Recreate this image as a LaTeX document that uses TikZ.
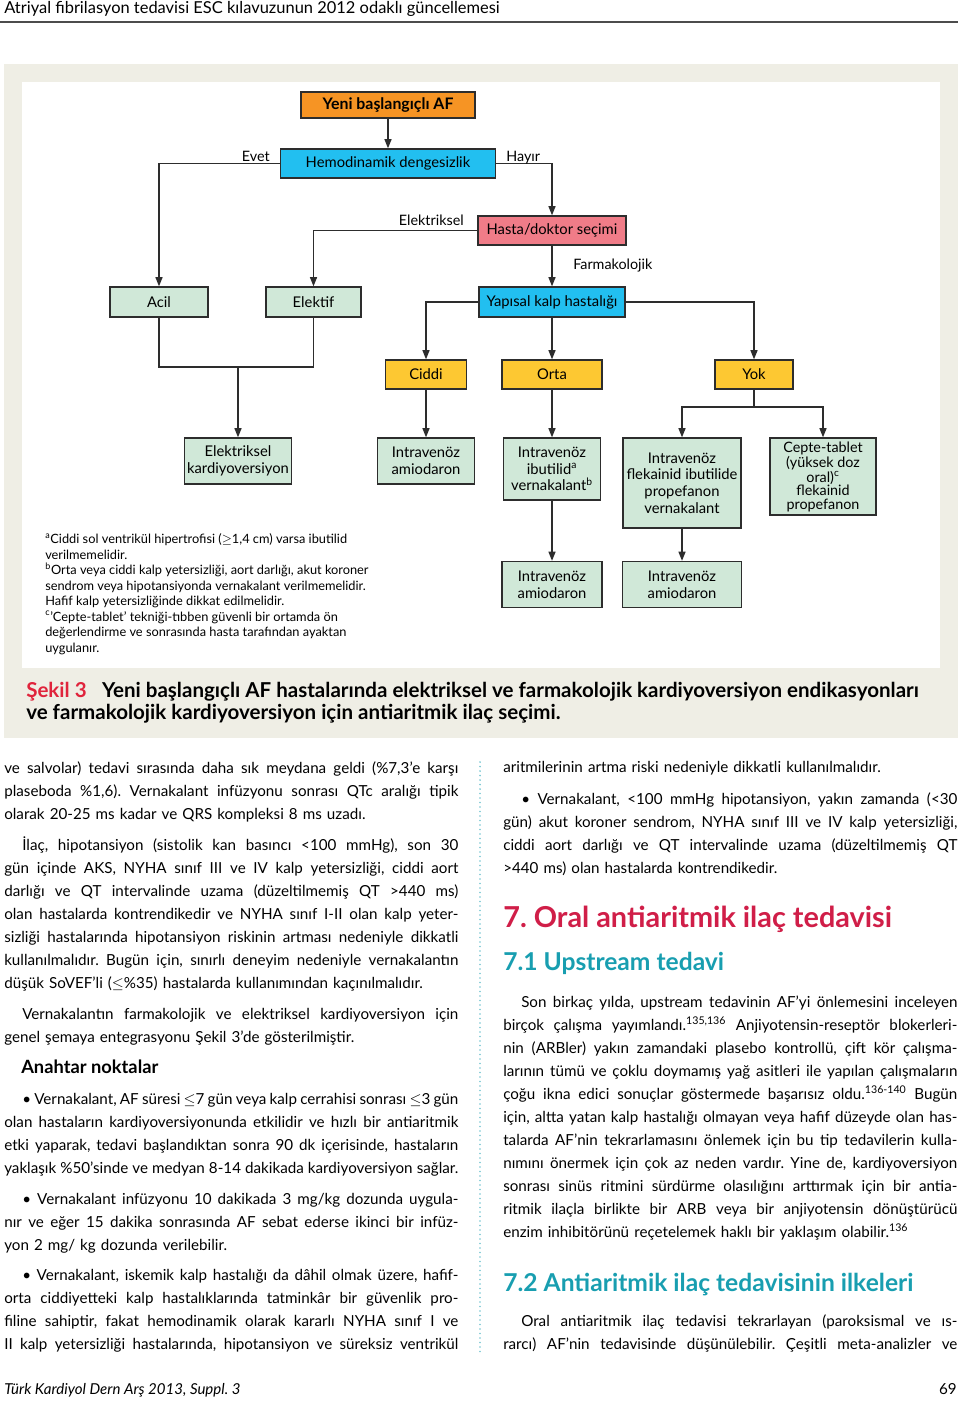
\documentclass[tikz,border=0pt]{standalone}
\usepackage{fontspec}
\setmainfont{Lato}
\usetikzlibrary{arrows.meta}

\definecolor{afturuncu}{RGB}{246,148,36}
\definecolor{afmavi}{RGB}{34,191,240}
\definecolor{afpembe}{RGB}{240,124,136}
\definecolor{afyesil}{RGB}{208,232,216}
\definecolor{afsari}{RGB}{253,200,50}
\definecolor{afbej}{RGB}{239,238,229}
\definecolor{afkirmizi}{RGB}{224,36,60}
\definecolor{afbordo}{RGB}{208,30,72}
\definecolor{afteal}{RGB}{24,158,176}
\definecolor{afcizgi}{RGB}{45,45,45}

\newcommand\ustfont{\fontsize{11.7}{13}\selectfont}
\newcommand\kutufont{\fontsize{10.5}{11.8}\selectfont}
\newcommand\kutusikfont{\fontsize{10.2}{9.6}\selectfont}
\newcommand\etiketfont{\fontsize{10.2}{12}\selectfont}
\newcommand\notfont{\fontsize{9.1}{11}\selectfont}
\newcommand\sekilfont{\bfseries\fontsize{14.6}{15}\selectfont}
\newcommand\govdefont{\fontsize{10.8}{16.36}\selectfont}
\newcommand\baslikfont{\bfseries\fontsize{20.5}{22}\selectfont}
\newcommand\altbaslikfont{\bfseries\fontsize{17.5}{20}\selectfont}

\newlength\sutun \setlength\sutun{11.35cm}
\newlength\girinti \setlength\girinti{0.45cm}
\newcommand{\jline}[1]{\leavevmode\hbox to\sutun{\spaceskip=\fontdimen2\font plus 1fil minus .16em\relax #1}}

\begin{document}
\frenchspacing
\begin{tikzpicture}[x=0.025cm,y=-0.025cm,
    kutu/.style={draw=afcizgi,line width=1pt,inner sep=0pt,align=center,font=\kutufont},
    boyut/.style 2 args={minimum width=#1*0.025cm,minimum height=#2*0.025cm},
    ok/.style={-{Triangle[length=6.5pt,width=5pt]},line width=0.9pt,draw=afcizgi},
    hat/.style={line width=0.9pt,draw=afcizgi},
    etiket/.style={font=\etiketfont,inner sep=0pt},
    paragraf/.style={anchor=base west,inner sep=0pt,text width=\sutun,font=\govdefont},
    baslik/.style={anchor=base west,inner sep=0pt}]
    \useasboundingbox (0,0) rectangle (960,1401);

    %%%%%%%%% Sayfa basi %%%%%%%%%
    \node[anchor=base west,inner sep=0pt,font=\ustfont] (ust) at (4,13) {Atriyal fibrilasyon tedavisi ESC kılavuzunun 2012 odaklı güncellemesi};
    \draw[line width=1.5pt,black!70] (0,22) -- (958,22);

    %%%%%%%%% Zemin %%%%%%%%%
    \fill[afbej] (4,64) rectangle (958,738);
    \fill[white] (22,82) rectangle (940,668);

    %%%%%%%%% Kutular %%%%%%%%%
    \node[kutu,fill=afturuncu,boyut={174}{26},font=\fontsize{11.3}{12}\selectfont\bfseries] (af) at (388,105) {Yeni başlangıçlı AF};
    \node[kutu,fill=afmavi,boyut={215}{29}] (hemo) at (388,163.5) {Hemodinamik dengesizlik};
    \node[kutu,fill=afpembe,boyut={148}{29}] (hasta) at (552,230.5) {Hasta/doktor seçimi};
    \node[kutu,fill=afyesil,boyut={98}{30}] (acil) at (159,302) {Acil};
    \node[kutu,fill=afyesil,boyut={95}{30}] (elektif) at (313.5,302) {Elektif};
    \node[kutu,fill=afmavi,boyut={146}{30}] (yapisal) at (552,302) {Yapısal kalp hastalığı};
    \node[kutu,fill=afsari,boyut={81}{29}] (ciddi) at (426,374.5) {Ciddi};
    \node[kutu,fill=afsari,boyut={100}{29}] (orta) at (552,374.5) {Orta};
    \node[kutu,fill=afsari,boyut={78}{29}] (yok) at (754,374.5) {Yok};
    \node[kutu,fill=afyesil,boyut={107}{46}] (ekv) at (238,461) {Elektriksel\\kardiyoversiyon};
    \node[kutu,fill=afyesil,boyut={97}{46}] (ivam1) at (426,461) {Intravenöz\\amiodaron};
    \node[kutu,fill=afyesil,boyut={97}{62}] (ibut) at (552,469) {Intravenöz\\ibutilid\textsuperscript{a}\\vernakalant\textsuperscript{b}};
    \node[kutu,fill=afyesil,boyut={118}{90}] (flek) at (682,483) {Intravenöz\\flekainid ibutilide\\propefanon\\vernakalant};
    \node[kutu,fill=afyesil,boyut={106}{77},font=\kutusikfont] (cepte) at (823,476.5) {Cepte-tablet\\(yüksek doz\\oral)\textsuperscript{c}\\flekainid\\propefanon};
    \node[kutu,fill=afyesil,boyut={100}{46}] (ivam2) at (552,584.5) {Intravenöz\\amiodaron};
    \node[kutu,fill=afyesil,boyut={119}{46}] (ivam3) at (682,584.5) {Intravenöz\\amiodaron};

    %%%%%%%%% Oklar %%%%%%%%%
    \coordinate (birles) at (238,367);
    \coordinate (yokalt) at (754,407);
    \draw[ok] (af) -- (hemo);
    \draw[ok] (hemo.west) -| (acil.north);
    \draw[ok] (hemo.east) -| (hasta.north);
    \draw[ok] (hasta.west) -| (elektif.north);
    \draw[ok] (hasta) -- (yapisal);
    \draw[ok] (yapisal.west) -| (ciddi.north);
    \draw[ok] (yapisal) -- (orta);
    \draw[ok] (yapisal.east) -| (yok.north);
    \draw[hat] (acil.south) |- (birles) -| (elektif.south);
    \draw[ok] (birles) -- (ekv);
    \draw[ok] (ciddi) -- (ivam1);
    \draw[ok] (orta) -- (ibut);
    \draw[hat] (yok) -- (yokalt);
    \draw[ok] (yokalt) -| (flek.north);
    \draw[ok] (yokalt) -| (cepte.north);
    \draw[ok] (ibut) -- (ivam2);
    \draw[ok] (flek) -- (ivam3);

    %%%%%%%%% Etiketler %%%%%%%%%
    \node[etiket,anchor=base east] (evet) at (270,161) {Evet};
    \node[etiket,anchor=base west] (hayir) at (506,161) {Hayır};
    \node[etiket,anchor=base east] (elk) at (464,225) {Elektriksel};
    \node[etiket,anchor=base west] (farm) at (573,269) {Farmakolojik};

    %%%%%%%%% Dipnotlar %%%%%%%%%
    \node[anchor=base west,inner sep=0pt,align=left,font=\notfont] (dipnot) at (45,652) {%
        \textsuperscript{a}Ciddi sol ventrikül hipertrofisi ($\geq$1,4 cm) varsa ibutilid\\
        verilmemelidir.\\
        \textsuperscript{b}Orta veya ciddi kalp yetersizliği, aort darlığı, akut koroner\\
        sendrom veya hipotansiyonda vernakalant verilmemelidir.\\
        Hafif kalp yetersizliğinde dikkat edilmelidir.\\
        \textsuperscript{c}’Cepte-tablet’ tekniği-tıbben güvenli bir ortamda ön\\
        değerlendirme ve sonrasında hasta tarafından ayaktan\\
        uygulanır.};

    %%%%%%%%% Sekil yazisi %%%%%%%%%
    \node[anchor=base west,inner sep=0pt,align=left,font=\sekilfont] (sekil) at (26,719) {%
        {\color{afkirmizi}Şekil 3}\hspace{11pt}Yeni başlangıçlı AF hastalarında elektriksel ve farmakolojik kardiyoversiyon endikasyonları\\
        ve farmakolojik kardiyoversiyon için antiaritmik ilaç seçimi.};

    %%%%%%%%% Ayirici %%%%%%%%%
    \draw[afteal!60,line width=1.4pt,line cap=round,dash pattern=on 0pt off 3.2pt] (480,762) -- (480,1352);

    %%%%%%%%% Sol sutun %%%%%%%%%
    \node[paragraf] (pa) at (4,773) {%
        \jline{ve salvolar) tedavi sırasında daha sık meydana geldi (\%7,3’e karşı}\\
        \jline{plaseboda \%1,6). Vernakalant infüzyonu sonrası QTc aralığı tipik}\\
        olarak 20-25 ms kadar ve QRS kompleksi 8 ms uzadı.};
    \node[paragraf] (pb) at (4,850) {%
        \jline{\hspace*{\girinti}İlaç, hipotansiyon (sistolik kan basıncı <100 mmHg), son 30}\\
        \jline{gün içinde AKS, NYHA sınıf III ve IV kalp yetersizliği, ciddi aort}\\
        \jline{darlığı ve QT intervalinde uzama (düzeltilmemiş QT >440 ms)}\\
        \jline{olan hastalarda kontrendikedir ve NYHA sınıf I-II olan kalp yeter-}\\
        \jline{sizliği hastalarında hipotansiyon riskinin artması nedeniyle dikkatli}\\
        \jline{kullanılmalıdır. Bugün için, sınırlı deneyim nedeniyle vernakalantın}\\
        düşük SoVEF’li ($\leq$\%35) hastalarda kullanımından kaçınılmalıdır.};
    \node[paragraf] (pc) at (4,1019) {%
        \jline{\hspace*{\girinti}Vernakalantın farmakolojik ve elektriksel kardiyoversiyon için}\\
        genel şemaya entegrasyonu Şekil 3’de gösterilmiştir.};
    \node[baslik,font=\fontsize{13}{14}\selectfont\bfseries] (anahtar) at (21,1073) {Anahtar noktalar};
    \node[paragraf] (pd) at (4,1104) {%
        \jline{\hspace*{\girinti}• Vernakalant, AF süresi $\leq$7 gün veya kalp cerrahisi sonrası $\leq$3 gün}\\
        \jline{olan hastaların kardiyoversiyonunda etkilidir ve hızlı bir antiaritmik}\\
        \jline{etki yaparak, tedavi başlandıktan sonra 90 dk içerisinde, hastaların}\\
        \jline{yaklaşık \%50’sinde ve medyan 8-14 dakikada kardiyoversiyon sağlar.}};
    \node[paragraf] (pe) at (4,1204) {%
        \jline{\hspace*{\girinti}• Vernakalant infüzyonu 10 dakikada 3 mg/kg dozunda uygula-}\\
        \jline{nır ve eğer 15 dakika sonrasında AF sebat ederse ikinci bir infüz-}\\
        yon 2 mg/ kg dozunda verilebilir.};
    \node[paragraf] (pf) at (4,1280) {%
        \jline{\hspace*{\girinti}• Vernakalant, iskemik kalp hastalığı da dâhil olmak üzere, hafif-}\\
        \jline{orta ciddiyetteki kalp hastalıklarında tatminkâr bir güvenlik pro-}\\
        \jline{filine sahiptir, fakat hemodinamik olarak kararlı NYHA sınıf I ve}\\
        \jline{II kalp yetersizliği hastalarında, hipotansiyon ve süreksiz ventrikül}};

    %%%%%%%%% Sag sutun %%%%%%%%%
    \node[paragraf] (qa) at (503,772) {aritmilerinin artma riski nedeniyle dikkatli kullanılmalıdır.};
    \node[paragraf] (qb) at (503,804) {%
        \jline{\hspace*{\girinti}• Vernakalant, <100 mmHg hipotansiyon, yakın zamanda (<30}\\
        \jline{gün) akut koroner sendrom, NYHA sınıf III ve IV kalp yetersizliği,}\\
        \jline{ciddi aort darlığı ve QT intervalinde uzama (düzeltilmemiş QT}\\
        >440 ms) olan hastalarda kontrendikedir.};
    \node[baslik,font=\baslikfont,text=afbordo] (b7) at (503,927) {7. Oral antiaritmik ilaç tedavisi};
    \node[baslik,font=\altbaslikfont,text=afteal] (b71) at (503,970) {7.1 Upstream tedavi};
    \node[paragraf] (qc) at (503,1007) {%
        \jline{\hspace*{\girinti}Son birkaç yılda, upstream tedavinin AF’yi önlemesini inceleyen}\\
        \jline{birçok çalışma yayımlandı.\textsuperscript{135,136} Anjiyotensin-reseptör blokerleri-}\\
        \jline{nin (ARBler) yakın zamandaki plasebo kontrollü, çift kör çalışma-}\\
        \jline{larının tümü ve çoklu doymamış yağ asitleri ile yapılan çalışmaların}\\
        \jline{çoğu ikna edici sonuçlar göstermede başarısız oldu.\textsuperscript{136-140} Bugün}\\
        \jline{için, altta yatan kalp hastalığı olmayan veya hafif düzeyde olan has-}\\
        \jline{talarda AF’nin tekrarlamasını önlemek için bu tip tedavilerin kulla-}\\
        \jline{nımını önermek için çok az neden vardır. Yine de, kardiyoversiyon}\\
        \jline{sonrası sinüs ritmini sürdürme olasılığını arttırmak için bir antia-}\\
        \jline{ritmik ilaçla birlikte bir ARB veya bir anjiyotensin dönüştürücü}\\
        enzim inhibitörünü reçetelemek haklı bir yaklaşım olabilir.\textsuperscript{136}};
    \node[baslik,font=\altbaslikfont,text=afteal] (b72) at (503,1291) {7.2 Antiaritmik ilaç tedavisinin ilkeleri};
    \node[paragraf] (qd) at (503,1326) {%
        \jline{\hspace*{\girinti}Oral antiaritmik ilaç tedavisi tekrarlayan (paroksismal ve ıs-}\\
        \jline{rarcı) AF’nin tedavisinde düşünülebilir. Çeşitli meta-analizler ve}};

    %%%%%%%%% Sayfa sonu %%%%%%%%%
    \node[anchor=base west,inner sep=0pt,font=\fontsize{10.7}{12}\selectfont\itshape] (dergi) at (4,1394) {Türk Kardiyol Dern Arş 2013, Suppl. 3};
    \node[anchor=base east,inner sep=0pt,font=\govdefont] (sayfa) at (957,1394) {69};
\end{tikzpicture}
\end{document}
